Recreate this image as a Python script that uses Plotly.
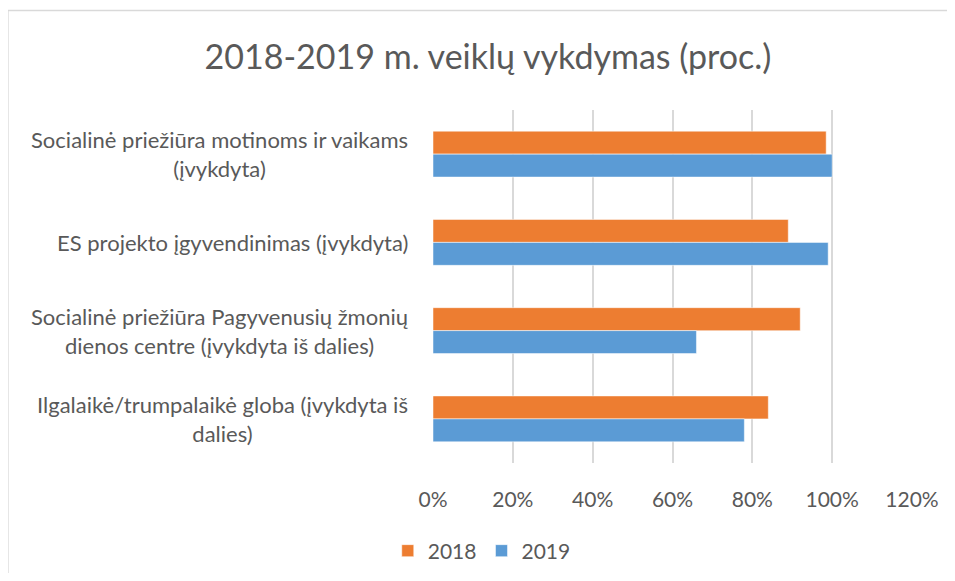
import plotly.graph_objects as go

categories = [
    "Socialinė priežiūra motinoms ir vaikams<br>(įvykdyta)",
    "ES projekto įgyvendinimas (įvykdyta)",
    "Socialinė priežiūra Pagyvenusių žmonių<br>dienos centre (įvykdyta iš dalies)",
    "Ilgalaikė/trumpalaikė globa (įvykdyta iš<br>dalies)",
]
series_names = ["2018", "2019"]
values_2018 = [0.985, 0.89, 0.92, 0.84]
values_2019 = [1.00, 0.99, 0.66, 0.78]
tick_values = [0, 0.2, 0.4, 0.6, 0.8, 1.0, 1.2]
tick_labels = ["0%", "20%", "40%", "60%", "80%", "100%", "120%"]

colors = {"2018": "#ED7D31", "2019": "#5B9BD5"}
FONT = "Lato"
GRAY = "#595959"

fig = go.Figure()
for name, vals in zip(series_names, [values_2018, values_2019]):
    fig.add_trace(go.Bar(
        y=categories, x=vals, name=name, orientation="h",
        marker=dict(color=colors[name], line=dict(color="white", width=0.5)),
    ))

# page body has an 8px margin; work in figure coordinates (screen - 8)
OFF = 8
W, H = 955 - 2 * OFF, 581 - 2 * OFF
ml = 433.3 - OFF
mr = W - (911.7 - OFF)
mt = 110 - OFF
mb = H - (463 - OFF)
pw = W - ml - mr
ph = H - mt - mb


def px_x(sx):
    return (sx - OFF - ml) / pw


def px_y(sy):
    return (ph - (sy - OFF - mt)) / ph


annotations = []
for cat in categories:
    annotations.append(dict(
        x=px_x(410), xref="paper", y=cat, yref="y",
        text=cat, showarrow=False, xanchor="right", yanchor="middle",
        align="center",
        font=dict(family=FONT, size=22, color=GRAY),
    ))

fig.update_layout(
    width=W, height=H,
    margin=dict(l=ml, r=mr, t=mt, b=mb, autoexpand=False),
    paper_bgcolor="white", plot_bgcolor="white",
    barmode="group", bargap=0.48, bargroupgap=0,
    title=dict(text="2018-2019 m. veiklų vykdymas (proc.)",
               x=(488 - OFF) / W, xanchor="center",
               y=1 - (57 - OFF) / H, yanchor="middle",
               font=dict(family=FONT, size=34, color=GRAY)),
    xaxis=dict(range=[0, 1.2], tickvals=tick_values, ticktext=tick_labels,
               showgrid=True, gridcolor="#D9D9D9", gridwidth=1.5, zeroline=False,
               showline=False, ticks="", ticklabelstandoff=22,
               tickfont=dict(family=FONT, size=21, color=GRAY), fixedrange=True),
    yaxis=dict(autorange="reversed", showticklabels=False, showgrid=False,
               zeroline=False, showline=False, ticks=""),
    legend=dict(orientation="h", x=px_x(482), xanchor="center",
                y=px_y(551), yanchor="middle",
                font=dict(family=FONT, size=21, color=GRAY),
                itemwidth=30, tracegroupgap=0),
    annotations=annotations,
    shapes=[
        dict(type="line", xref="paper", yref="paper",
             x0=(0.75 - ml) / pw, x1=(W + 5 - ml) / pw,
             y0=px_y(10.5), y1=px_y(10.5),
             line=dict(color="#D9D9D9", width=1.5)),
        dict(type="line", xref="paper", yref="paper",
             x0=(0.75 - ml) / pw, x1=(0.75 - ml) / pw,
             y0=px_y(10.5), y1=px_y(600),
             line=dict(color="#D9D9D9", width=1.5)),
    ],
)

fig.write_html("out.html")
